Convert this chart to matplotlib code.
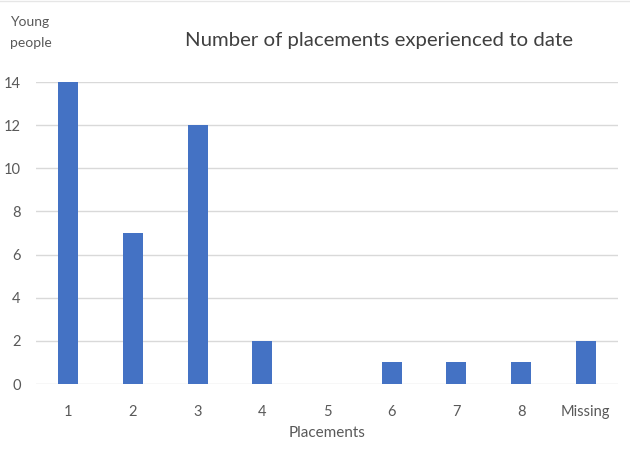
import matplotlib
matplotlib.use("Agg")
import matplotlib.pyplot as plt

categories = ["1", "2", "3", "4", "5", "6", "7", "8", "Missing"]
young_people = [14, 7, 12, 2, 0, 1, 1, 1, 2]
y_ticks = [0, 2, 4, 6, 8, 10, 12, 14]

plt.rcParams["font.family"] = ["Lato", "DejaVu Sans"]
text_col = "#595959"

fig = plt.figure(figsize=(6.3, 4.62), dpi=100)
ax = fig.add_axes([36 / 630, 78 / 462, 582 / 630, 302 / 462])

x = range(len(categories))
ax.bar(x, young_people, width=0.31, color="#4472C4", zorder=3)

ax.set_xlim(-0.5, len(categories) - 0.5)
ax.set_ylim(0, 14)
ax.set_yticks(y_ticks)
ax.set_xticks(list(x))
ax.set_xticklabels(categories)
ax.grid(axis="y", color="#d9d9d9", linewidth=1, zorder=0)
for s in ax.spines.values():
    s.set_visible(False)
ax.tick_params(length=0, labelsize=10.5, colors=text_col)
ax.tick_params(axis="x", pad=15)
ax.tick_params(axis="y", pad=11)

ax.set_xlabel("Placements", fontsize=11, color=text_col, labelpad=5)
fig.text(0.016, 0.93, "Young\npeople", fontsize=10, color=text_col,
         ha="left", va="center", linespacing=1.9)
fig.text(0.602, 0.913, "Number of placements experienced to date",
         fontsize=14.7, color="#404040", ha="center", va="center")

fig.add_artist(plt.Line2D([0, 1], [0.997, 0.997], color="#e6e6e6", linewidth=1,
                          transform=fig.transFigure))

fig.savefig("out.png", dpi=100)
